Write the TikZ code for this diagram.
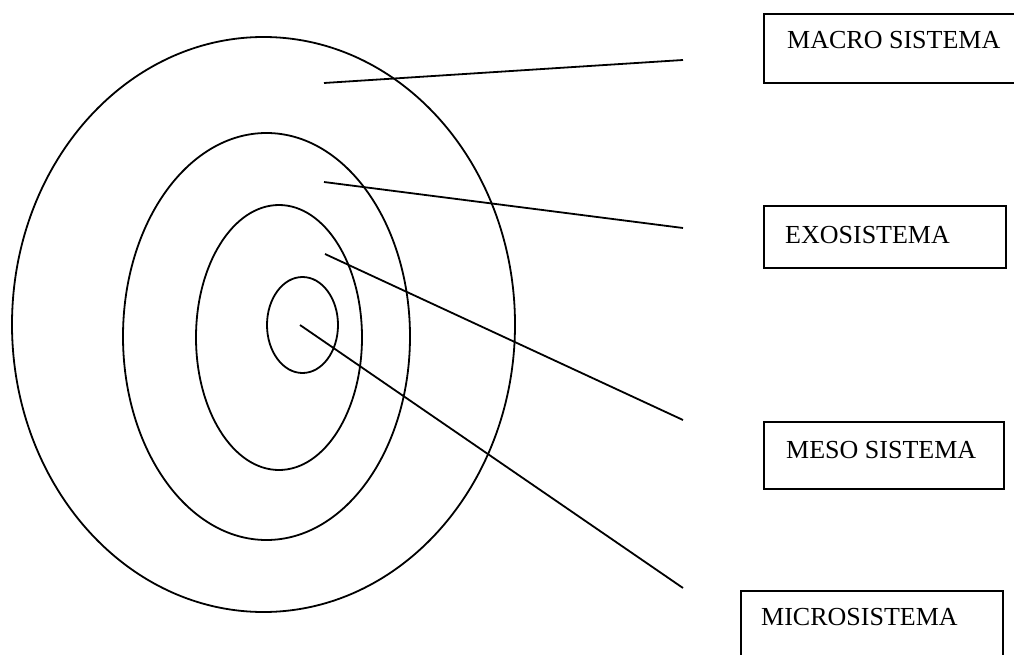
\documentclass[tikz,border=0pt]{standalone}
\usepackage{fontspec}
\setmainfont{Liberation Serif}
\begin{document}
\begin{tikzpicture}[x=1pt,y=-1pt,
  ring/.style={draw=black,line width=1.8pt},
  lbox/.style={draw=black,line width=1.5pt},
  conn/.style={draw=black,line width=1.8pt},
  lbl/.style={anchor=base west,inner sep=0pt,font=\fontsize{26}{31}\selectfont}]
\useasboundingbox (0,0) rectangle (1014,655);
\clip (0,0) rectangle (1014,655);
% rings
\draw[ring] (263.5,324.5) ellipse [x radius=251.5,y radius=287.5];
\draw[ring] (266.5,336.5) ellipse [x radius=143.5,y radius=203.5];
\draw[ring] (279,337.5) ellipse [x radius=83,y radius=132.5];
\draw[ring] (302.5,325) ellipse [x radius=35.5,y radius=48];
% boxes
\draw[lbox] (764,14) rectangle (1020,83);
\draw[lbox] (764,206) rectangle (1006,268);
\draw[lbox] (764,422) rectangle (1004,489);
\draw[lbox] (741,591) rectangle (1003,670);
% labels
\node[lbl] (macro) at (787,49) {MACRO SISTEMA};
\node[lbl] (exo) at (785,243) {EXOSISTEMA};
\node[lbl] (meso) at (786,458) {MESO SISTEMA};
\node[lbl] (micro) at (761,625) {MICROSISTEMA};
% connector ends
\coordinate (s1) at (324,83);
\coordinate (e1) at (683,60);
\coordinate (s2) at (324,182);
\coordinate (e2) at (683,228);
\coordinate (s3) at (325,254);
\coordinate (e3) at (683,420);
\coordinate (s4) at (300,325);
\coordinate (e4) at (683,588);
\draw[conn] (s1) -- (e1);
\draw[conn] (s2) -- (e2);
\draw[conn] (s3) -- (e3);
\draw[conn] (s4) -- (e4);
\end{tikzpicture}
\end{document}
